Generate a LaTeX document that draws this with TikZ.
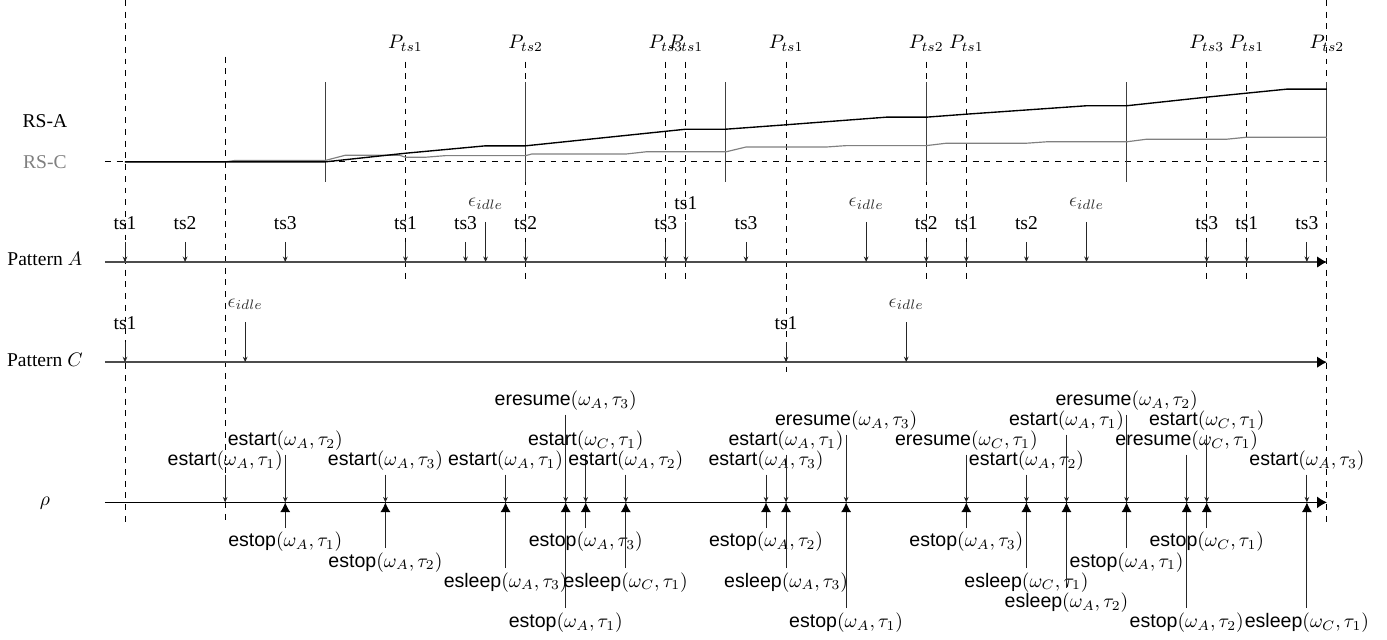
\documentclass[tikz,border=0pt]{standalone}
\usepackage[no-math]{fontspec}
\setmainfont{Liberation Serif}
\setsansfont{Liberation Sans}
\usetikzlibrary{arrows.meta}
\newcommand{\evt}[3]{\textsf{#1}$(\omega_{#2},\tau_{#3})$}
\tikzset{
 dashv/.style={dashed, line width=0.5pt},
 patax/.style={line width=0.9pt, black!70, -{Latex[length=5pt,width=6pt,fill=black,color=black]}},
 rhoax/.style={line width=0.5pt, black, -{Latex[length=5pt,width=6pt]}},
 tick/.style={line width=0.5pt, black!85, -{Stealth[length=2.8pt,width=2.4pt]}},
 uptick/.style={line width=0.5pt, black!85, -{Latex[length=5pt,width=5.2pt,color=black]}},
 plbl/.style={anchor=south, inner xsep=1pt, inner ysep=6pt},
 elbl/.style={anchor=south, inner xsep=1pt, inner ysep=6pt, text=black!80},
 plabel/.style={anchor=south, inner xsep=0.5pt, inner ysep=5pt},
 toplbl/.style={anchor=south, inner xsep=0.5pt, inner ysep=2pt},
 botlbl/.style={anchor=north, inner xsep=0.5pt, inner ysep=2pt},
 rowlbl/.style={anchor=base},
 bar/.style={line width=0.55pt, black!75},
 rsa/.style={line width=0.7pt, black},
 rsc/.style={line width=0.6pt, black!50},
}
\begin{document}
\begin{tikzpicture}[x=10.25pt,y=10.25pt]
\useasboundingbox (-6.24,-18.82) rectangle (63.0,13.08);

% row labels
\node[rowlbl] (lrsa) at (-4,6.69) {RS-A};
\node[rowlbl, text=black!50] (lrsc) at (-4,4.69) {RS-C};
\node[rowlbl] (lpa) at (-4,-0.19) {Pattern $A$};
\node[rowlbl] (lpc) at (-4,-5.23) {Pattern $C$};
\node[rowlbl] (lrho) at (-4,-12.15) {$\rho$};

% long dashed verticals
\draw[dashv] (0,13.08) -- (0,-13);
\draw[dashv] (5,10.25) -- (5,-13);
\draw[dashv] (60,13.08) -- (60,-13);

% axes coordinates
\coordinate (A0) at (-1,0);   \coordinate (A1) at (60,0);
\coordinate (C0) at (-1,-5);  \coordinate (C1) at (60,-5);
\coordinate (R0) at (-1,-12); \coordinate (R1) at (60,-12);
\coordinate (S0) at (-1,5);   \coordinate (S1) at (60,5);
\coordinate (Pb) at (0,-1);   \coordinate (Pc) at (0,-5.8);

% P labels with dashed lines
\foreach \x/\t [count=\i] in {14/ts1,20/ts2,27/ts3,28/ts1,40/ts2,42/ts1,54/ts3,56/ts1}{
  \node[plabel] (P\i) at (\x,10) {$P_{\t}$};
  \draw[dashv] (P\i.south) -- (P\i.south |- Pb);
}
\node[plabel] (P9) at (33,10) {$P_{ts1}$};
\draw[dashv] (P9.south) -- (P9.south |- Pc);
\node[plabel] (P10) at (60,10) {$P_{ts2}$};

% RS area
\draw[dashv] (S0) -- (S1);
\foreach \x in {10,20,30,40,50,60}{\draw[bar] (\x,4) -- (\x,9);}
\draw[rsc] (0,5) -- (5,5) -- (5.5,5.07) -- (10,5.07) -- (11,5.33) -- (13.7,5.33) -- (14,5.23) -- (15,5.23) -- (16,5.31) -- (20,5.31) -- (20.3,5.39) -- (25,5.39) -- (26,5.5) -- (30,5.5) -- (31,5.74) -- (35,5.74) -- (36,5.81) -- (40,5.81) -- (41,5.93) -- (45,5.93) -- (46,6.0) -- (50,6.0) -- (51,6.13) -- (55,6.13) -- (56,6.23) -- (60,6.23);
\draw[rsa] (0,5) -- (10,5) -- (14,5.43) -- (18,5.8) -- (20,5.8) -- (28,6.63) -- (30,6.63) -- (33,6.85) -- (38,7.23) -- (40,7.23) -- (42,7.38) -- (48,7.8) -- (50,7.8) -- (54,8.23) -- (56,8.43) -- (58,8.63) -- (60,8.63);

% Pattern A
\draw[patax] (A0) -- (A1);
\foreach \x/\y/\t [count=\i] in {0/1/ts1,3/1/ts2,8/1/ts3,14/1/ts1,17/1/ts3,20/1/ts2,27/1/ts3,28/2/ts1,31/1/ts3,40/1/ts2,42/1/ts1,45/1/ts2,54/1/ts3,56/1/ts1,59/1/ts3}{
  \node[plbl] (a\i) at (\x,\y) {\t};
  \draw[tick] (a\i.south) -- (a\i.south |- A0);
}
\foreach \x [count=\i] in {18,37,48}{
  \node[elbl] (ae\i) at (\x,2) {$\epsilon_{idle}$};
  \draw[tick] (ae\i.south) -- (ae\i.south |- A0);
}

% Pattern C
\draw[patax] (C0) -- (C1);
\foreach \x [count=\i] in {0,33}{
  \node[plbl] (c\i) at (\x,-4) {ts1};
  \draw[tick] (c\i.south) -- (c\i.south |- C0);
}
\foreach \x [count=\i] in {6,39}{
  \node[elbl] (ce\i) at (\x,-3) {$\epsilon_{idle}$};
  \draw[tick] (ce\i.south) -- (ce\i.south |- C0);
}

% rho
\draw[rhoax] (R0) -- (R1);
\foreach \x/\r/\n/\w/\k [count=\i] in {5/-10/estart/A/1, 8/-9/estart/A/2, 13/-10/estart/A/3, 19/-10/estart/A/1, 22/-7/eresume/A/3, 23/-9/estart/C/1, 25/-10/estart/A/2, 32/-10/estart/A/3, 33/-9/estart/A/1, 36/-8/eresume/A/3, 42/-9/eresume/C/1, 45/-10/estart/A/2, 47/-8/estart/A/1, 50/-7/eresume/A/2, 53/-9/eresume/C/1, 54/-8/estart/C/1, 59/-10/estart/A/3}{
  \node[toplbl] (t\i) at (\x,{\r-0.62}) {\evt{\n}{\w}{\k}};
  \draw[tick] (t\i.south) -- (t\i.south |- R0);
}
\foreach \x/\r/\n/\w/\k [count=\i] in {8/-14/estop/A/1, 13/-15/estop/A/2, 19/-16/esleep/A/3, 22/-18/estop/A/1, 23/-14/estop/A/3, 25/-16/esleep/C/1, 32/-14/estop/A/2, 33/-16/esleep/A/3, 36/-18/estop/A/1, 42/-14/estop/A/3, 45/-16/esleep/C/1, 47/-17/esleep/A/2, 50/-15/estop/A/1, 53/-18/estop/A/2, 54/-14/estop/C/1, 59/-18/esleep/C/1}{
  \node[botlbl] (b\i) at (\x,{\r+0.72}) {\evt{\n}{\w}{\k}};
  \draw[uptick] (b\i.north) -- (b\i.north |- R0);
}
\end{tikzpicture}
\end{document}
